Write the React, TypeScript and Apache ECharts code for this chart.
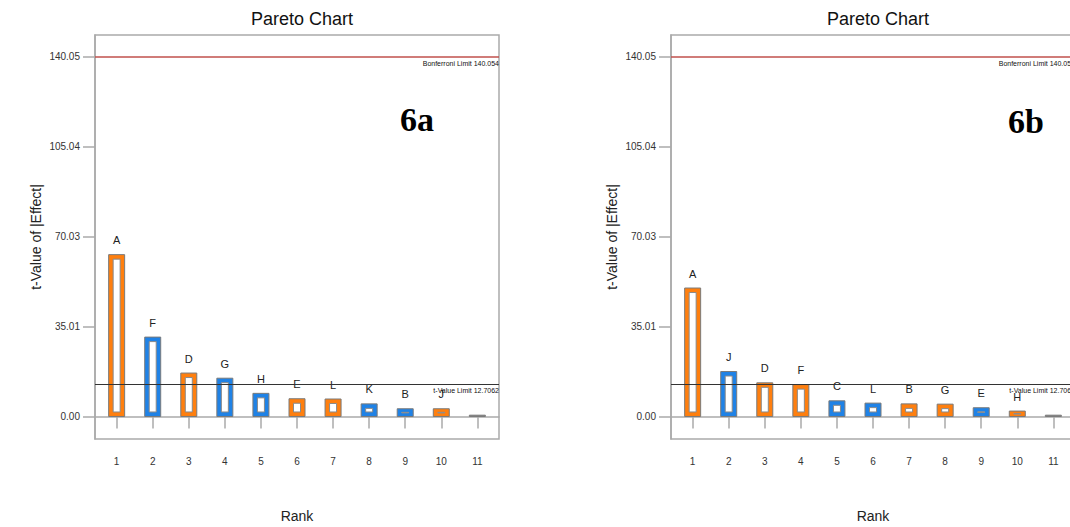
import React, { useEffect, useRef } from "react";
import * as echarts from "echarts";

// ---- data ----
const ranks = [1, 2, 3, 4, 5, 6, 7, 8, 9, 10, 11];
const termsA = ["A", "F", "D", "G", "H", "E", "L", "K", "B", "J", ""];
const valuesA = [63.0, 30.9, 16.9, 14.9, 9.0, 6.9, 6.8, 4.9, 3.0, 3.0, 0.5];
const signsA = [1, -1, 1, -1, -1, 1, 1, -1, -1, 1, 0];
const termsB = ["A", "J", "D", "F", "C", "L", "B", "G", "E", "H", ""];
const valuesB = [50.0, 17.5, 13.1, 12.4, 6.1, 5.2, 4.9, 4.8, 3.4, 2.1, 0.5];
const signsB = [1, -1, 1, 1, -1, -1, 1, 1, -1, 1, 0];
const yTickValues = [0, 35.01, 70.03, 105.04, 140.05];
const bonferroniLimit = 140.054;
const tValueLimit = 12.7062;
const panelLabels = ["6a", "6b"];

const ORANGE = "#FF7F0E";
const BLUE = "#1F82E6";
const EDGE = "#7a7a7a";

function makeRenderItem(terms: string[], signs: number[]) {
  return (params: any, api: any) => {
    const idx = params.dataIndex;
    const x = api.value(0);
    const v = api.value(1);
    const top = api.coord([x, v]);
    const base = api.coord([x, 0]);
    const cx = top[0];
    const half = 8;
    const h = Math.max(base[1] - top[1], 1);
    const y0 = base[1] - h;
    const sign = signs[idx];
    const fill = sign > 0 ? ORANGE : sign < 0 ? BLUE : "#888";
    const children: any[] = [
      {
        type: "rect",
        shape: { x: cx - half, y: y0, width: half * 2, height: h },
        style: { fill, stroke: EDGE, lineWidth: 1 },
      },
    ];
    if (h > 4) {
      const ih = Math.max(h - 9, 0.6);
      children.push({
        type: "rect",
        shape: { x: cx - 3.5, y: y0 + (h - ih) / 2, width: 7, height: ih },
        style: { fill: "#ffffff", stroke: "#8a8a8a", lineWidth: 1 },
      });
    }
    if (terms[idx]) {
      children.push({
        type: "text",
        style: {
          text: terms[idx],
          x: cx,
          y: y0 - 9,
          align: "center",
          verticalAlign: "bottom",
          fontSize: 11,
          fontFamily: "Liberation Sans, Arial, sans-serif",
          fill: "#222",
        },
      });
    }
    return { type: "group", children };
  };
}

export default function App() {
  const ref = useRef<HTMLDivElement>(null);
  useEffect(() => {
    if (!ref.current) return;
    const chart = echarts.init(ref.current, undefined, { renderer: "svg" });
    const font = "Liberation Sans, Arial, sans-serif";
    const lefts = [95, 671];
    const grids = lefts.map((l) => ({
      left: l,
      top: 35,
      right: 1070 - l - 404,
      bottom: 527 - 35 - 404,
      containLabel: false,
      outerBoundsMode: "none",
      show: true,
      borderColor: "#aaaaaa",
      borderWidth: 1.5,
      backgroundColor: "transparent",
    }));
    const xAxes = lefts.map((_, i) => ({
      type: "value",
      gridIndex: i,
      min: 0.4,
      max: 11.6,
      axisLine: { show: true, lineStyle: { color: "#aaaaaa", width: 1.5 } },
      axisTick: {
        show: true,
        inside: false,
        length: 12,
        customValues: ranks,
        lineStyle: { color: "#aaaaaa", width: 1.5 },
      },
      axisLabel: {
        customValues: ranks,
        margin: 17,
        fontSize: 10,
        color: "#333",
        fontFamily: font,
      },
      splitLine: { show: false },
      name: "Rank",
      nameLocation: "middle",
      nameGap: 70,
      nameTextStyle: { fontSize: 14, color: "#222", fontFamily: font },
    }));
    const yAxes = lefts.map((_, i) => ({
      type: "value",
      gridIndex: i,
      min: -8.77,
      max: 148.5,
      axisLine: { show: true, lineStyle: { color: "#aaaaaa", width: 1.5 } },
      axisTick: {
        show: true,
        inside: false,
        length: 12,
        customValues: yTickValues,
        lineStyle: { color: "#aaaaaa", width: 1.5 },
      },
      axisLabel: {
        customValues: yTickValues,
        formatter: (v: number) => v.toFixed(2),
        margin: 15,
        fontSize: 10,
        color: "#333",
        fontFamily: font,
      },
      splitLine: { show: false },
      name: "t-Value of |Effect|",
      nameLocation: "middle",
      nameGap: 52,
      nameTextStyle: { fontSize: 14, color: "#222", fontFamily: font },
    }));
    const panels = [
      { terms: termsA, values: valuesA, signs: signsA },
      { terms: termsB, values: valuesB, signs: signsB },
    ];
    const series = panels.map((p, i) => ({
      type: "custom",
      xAxisIndex: i,
      yAxisIndex: i,
      clip: false,
      data: ranks.map((r, k) => [r, p.values[k]]),
      renderItem: makeRenderItem(p.terms, p.signs),
      markLine: {
        silent: true,
        symbol: ["none", "none"],
        animation: false,
        data: [
          {
            yAxis: bonferroniLimit,
            lineStyle: { color: "#c0504d", width: 1.5, type: "solid" },
            label: {
              show: true,
              position: "insideEndBottom",
              distance: [0, 3],
              formatter: "Bonferroni Limit " + bonferroniLimit,
              fontSize: 7,
              color: "#111",
              fontFamily: font,
            },
          },
          {
            yAxis: tValueLimit,
            lineStyle: { color: "#333", width: 1.2, type: "solid" },
            label: {
              show: true,
              position: "insideEndBottom",
              distance: [0, 3],
              formatter: "t-Value Limit " + tValueLimit,
              fontSize: 7,
              color: "#111",
              fontFamily: font,
            },
          },
        ],
      },
    }));
    chart.setOption({
      animation: false,
      title: [
        {
          text: "Pareto Chart",
          left: 297,
          top: 5,
          textAlign: "center",
          textStyle: { fontSize: 18, fontWeight: "normal", color: "#111", fontFamily: font },
        },
        {
          text: "Pareto Chart",
          left: 873,
          top: 5,
          textAlign: "center",
          textStyle: { fontSize: 18, fontWeight: "normal", color: "#111", fontFamily: font },
        },
      ],
      graphic: [
        {
          type: "text",
          left: 400,
          top: 102,
          style: {
            text: panelLabels[0],
            fontSize: 34,
            fontWeight: "bold",
            fontFamily: "Liberation Serif, Times New Roman, serif",
            fill: "#000",
          },
        },
        {
          type: "text",
          left: 1008,
          top: 104,
          style: {
            text: panelLabels[1],
            fontSize: 34,
            fontWeight: "bold",
            fontFamily: "Liberation Serif, Times New Roman, serif",
            fill: "#000",
          },
        },
      ],
      grid: grids,
      xAxis: xAxes,
      yAxis: yAxes,
      series,
    });
    return () => chart.dispose();
  }, []);
  return (
    <div
      ref={ref}
      style={{ position: "absolute", left: 0, top: 0, width: 1070, height: 527, background: "#fff" }}
    />
  );
}
